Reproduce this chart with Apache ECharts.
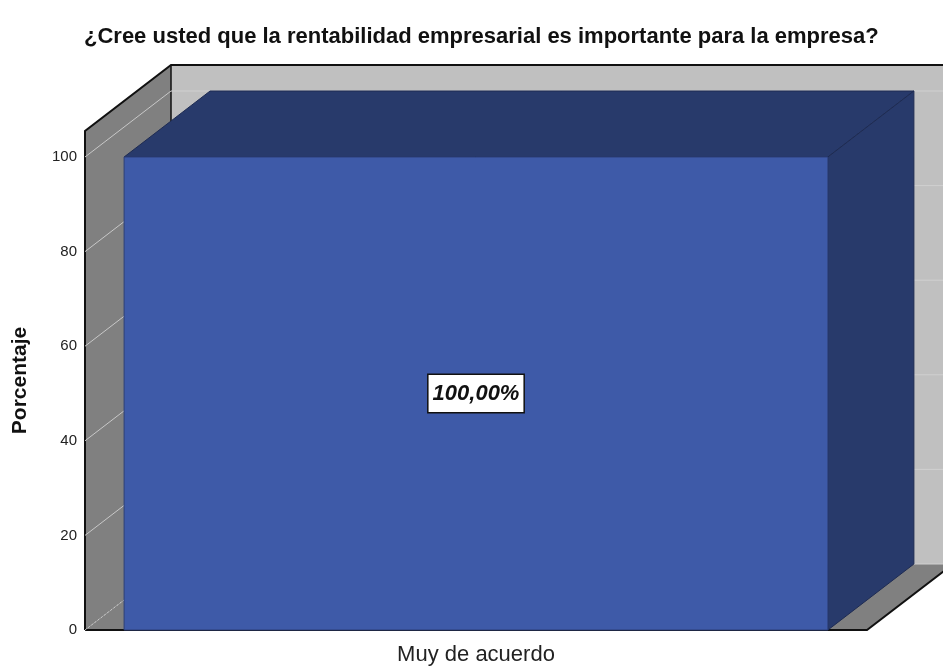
<!DOCTYPE html>
<html>
<head>
<meta charset="utf-8">
<script src="https://cdn.jsdelivr.net/npm/echarts@6/dist/echarts.min.js"></script>
<style>
  html, body { margin: 0; padding: 0; background: #fff; }
  #chart { width: 943px; height: 666px; }
</style>
</head>
<body>
<div id="chart"></div>
<script>
// data
const categories = ['Muy de acuerdo']
const percentages = [100]
const barLabels = ['100,00%']
const yTicks = [0, 20, 40, 60, 80, 100]

// 3d depth offset of the box (pixels)
const DX = 86
const DY = -66
const FONT = '"Liberation Sans", Arial, sans-serif'

const chart = echarts.init(document.getElementById('chart'))

function renderWalls(params, api) {
  const cs = params.coordSys
  const l = cs.x, r = cs.x + cs.width, t = cs.y, b = cs.y + cs.height
  return {
    type: 'group',
    children: [
      // back wall
      { type: 'polygon', shape: { points: [[l + DX, t + DY], [r + DX, t + DY], [r + DX, b + DY], [l + DX, b + DY]] },
        style: { fill: '#c0c0c0', stroke: null } },
      // left wall
      { type: 'polygon', shape: { points: [[l, b], [l, t], [l + DX, t + DY], [l + DX, b + DY]] },
        style: { fill: '#808080', stroke: null } },
      // floor
      { type: 'polygon', shape: { points: [[l, b], [r, b], [r + DX, b + DY], [l + DX, b + DY]] },
        style: { fill: '#808080', stroke: null } },
      // edges
      { type: 'polyline', shape: { points: [[l, b], [l, t], [l + DX, t + DY], [r + DX + 10, t + DY]] },
        style: { stroke: '#111', lineWidth: 2, fill: null } },
      { type: 'line', shape: { x1: l + DX, y1: t + DY, x2: l + DX, y2: b + DY },
        style: { stroke: '#111', lineWidth: 1.5 } },
      { type: 'polyline', shape: { points: [[l, b], [r, b], [r + DX, b + DY]] },
        style: { stroke: '#111', lineWidth: 2, fill: null } }
    ]
  }
}

function renderGrid(params, api) {
  const cs = params.coordSys
  const l = cs.x, r = cs.x + cs.width
  const v = api.value(1)
  const y = api.coord([0, v])[1]
  return {
    type: 'group',
    children: [
      { type: 'line', shape: { x1: l, y1: y, x2: l + DX, y2: y + DY },
        style: { stroke: '#c8c8c8', lineWidth: 1, lineDash: v === 0 ? [2, 2] : null } },
      { type: 'line', shape: { x1: l + DX, y1: y + DY, x2: r + DX, y2: y + DY },
        style: { stroke: '#d0d0d0', lineWidth: 1 } }
    ]
  }
}

function renderBar(params, api) {
  const idx = api.value(0)
  const top = api.coord([idx, api.value(1)])
  const base = api.coord([idx, 0])
  const w = api.size([1, 0])[0] * 0.9
  const x0 = top[0] - w / 2, x1 = top[0] + w / 2
  const yt = top[1], yb = base[1]
  return {
    type: 'group',
    children: [
      { type: 'polygon', shape: { points: [[x0, yt], [x1, yt], [x1 + DX, yt + DY], [x0 + DX, yt + DY]] },
        style: { fill: '#283a6b', stroke: '#1e2b52', lineWidth: 1 } },
      { type: 'polygon', shape: { points: [[x1, yt], [x1 + DX, yt + DY], [x1 + DX, yb + DY], [x1, yb]] },
        style: { fill: '#283a6b', stroke: '#1e2b52', lineWidth: 1 } },
      { type: 'rect', shape: { x: x0, y: yt, width: w, height: yb - yt },
        style: { fill: '#3e5aa8', stroke: '#2c3f78', lineWidth: 1 } },
      { type: 'text', x: top[0], y: (yt + yb) / 2,
        style: {
          text: barLabels[params.dataIndex],
          font: 'italic bold 22px ' + FONT,
          fill: '#111', align: 'center', verticalAlign: 'middle',
          backgroundColor: '#fff', borderColor: '#111', borderWidth: 1.5,
          padding: [8, 4, 7, 4]
        } }
    ]
  }
}

chart.setOption({
  animation: false,
  title: {
    text: '¿Cree usted que la rentabilidad empresarial es importante para la empresa?',
    left: 79,
    top: 21,
    textStyle: { fontFamily: FONT, fontSize: 22, fontWeight: 'bold', color: '#111' }
  },
  grid: { left: 85, right: 76, top: 131, bottom: 36 },
  xAxis: {
    type: 'category',
    data: categories,
    axisLine: { show: false },
    axisTick: { show: false },
    axisLabel: { fontFamily: FONT, fontSize: 22, color: '#222', margin: 14 }
  },
  yAxis: {
    type: 'value',
    min: 0,
    max: 105.5,
    interval: 20,
    name: 'Porcentaje',
    nameLocation: 'middle',
    nameGap: 54,
    nameRotate: 90,
    nameTextStyle: { fontFamily: FONT, fontSize: 21, fontWeight: 'bold', color: '#111' },
    axisLine: { show: false },
    axisTick: { show: false },
    splitLine: { show: false },
    axisLabel: { fontFamily: FONT, fontSize: 15, color: '#222', margin: 8, showMaxLabel: false }
  },
  series: [
    { type: 'custom', renderItem: renderWalls, data: [0], clip: false, z: 1, silent: true },
    { type: 'custom', renderItem: renderGrid, data: yTicks.map(v => [0, v]), clip: false, z: 2, silent: true },
    { type: 'custom', renderItem: renderBar, data: percentages.map((v, i) => [i, v]), clip: false, z: 3 }
  ]
})
</script>
</body>
</html>
